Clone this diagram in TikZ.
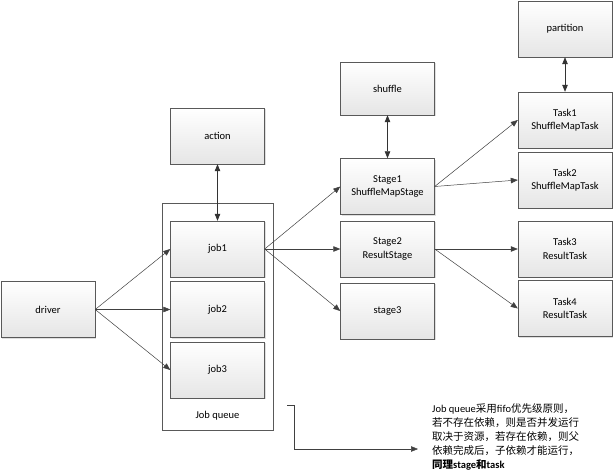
\documentclass[tikz,border=0pt]{standalone}
\usepackage{fontspec}
\setmainfont{Carlito}
\newfontfamily\cjk{Noto Sans CJK SC}
\usetikzlibrary{arrows.meta, shadows}

\begin{document}
\begin{tikzpicture}[x=1pt, y=-1pt,
  box/.style={draw=black!65, top color=white, bottom color=black!10, drop shadow={shadow xshift=1.2pt, shadow yshift=-1.2pt, opacity=0.25},
    minimum width=94pt, minimum height=56pt, align=center, font=\fontsize{10.5}{13.5}\selectfont, inner sep=1pt},
  link/.style={-{Triangle[length=7pt, width=5.5pt]}, draw=black!75, line width=0.5pt},
  both/.style={{Triangle[length=7pt, width=5.5pt]}-{Triangle[length=7pt, width=5.5pt]}, draw=black!80, line width=0.7pt}
]
  \useasboundingbox (0,0) rectangle (615,473);

  % job queue container
  \node[draw=black!65, fill=white, drop shadow={shadow xshift=1.2pt, shadow yshift=-1.2pt, opacity=0.2}, minimum width=111pt, minimum height=227pt] (queue) at (217.5, 316.5) {};
  \node[font=\fontsize{10.5}{12}\selectfont] (qlabel) at (217.5, 416) {Job queue};

  \node[box] (driver) at (48, 309.5) {driver};
  \node[box] (action) at (217.5, 136) {action};
  \node[box] (job1) at (217.5, 249) {job1};
  \node[box] (job2) at (217.5, 309.5) {job2};
  \node[box] (job3) at (217.5, 370) {job3};

  \node[box, minimum height=53pt] (shuffle) at (387.5, 88.5) {shuffle};
  \node[box] (stage1) at (387.5, 186.5) {Stage1\\ShuffleMapStage};
  \node[box] (stage2) at (387.5, 249) {Stage2\\ResultStage};
  \node[box] (stage3) at (387.5, 311) {stage3};

  \node[box] (part) at (565, 29) {partition};
  \node[box] (task1) at (565, 120) {Task1\\ShuffleMapTask};
  \node[box] (task2) at (565, 180) {Task2\\ShuffleMapTask};
  \node[box] (task3) at (565, 249) {Task3\\ResultTask};
  \node[box] (task4) at (565, 308.5) {Task4\\ResultTask};

  \draw[link] (driver.east) -- (job1.west);
  \draw[link] (driver.east) -- (job2.west);
  \draw[link] (driver.east) -- (job3.west);
  \draw[both] (action) -- (job1);

  \draw[link] (job1.east) -- (stage1.west);
  \draw[link] (job1.east) -- (stage2.west);
  \draw[link] (job1.east) -- (stage3.west);
  \draw[both] (shuffle) -- (stage1);

  \draw[link] (stage1.east) -- (task1.west);
  \draw[link] (stage1.east) -- (task2.west);
  \draw[link] (stage2.east) -- (task3.west);
  \draw[link] (stage2.east) -- (task4.west);
  \draw[both] (part) -- (task1);

  % note
  \node[anchor=north west, align=left, inner sep=0pt, font=\fontsize{10.5}{14}\selectfont] (note) at (432, 403)
    {Job queue{\cjk 采用}fifo{\cjk 优先级原则，}\\
     {\cjk 若不存在依赖，则是否并发运行}\\
     {\cjk 取决于资源，若存在依赖，则父}\\
     {\cjk 依赖完成后，子依赖才能运行，}\\
     \textbf{{\cjk\bfseries 同理}stage{\cjk\bfseries 和}task}};
  \coordinate (bstart) at (287, 405);
  \coordinate (bend) at (418, 449);
  \draw[link] (bstart) -- (294, 405) |- (bend);
\end{tikzpicture}
\end{document}
